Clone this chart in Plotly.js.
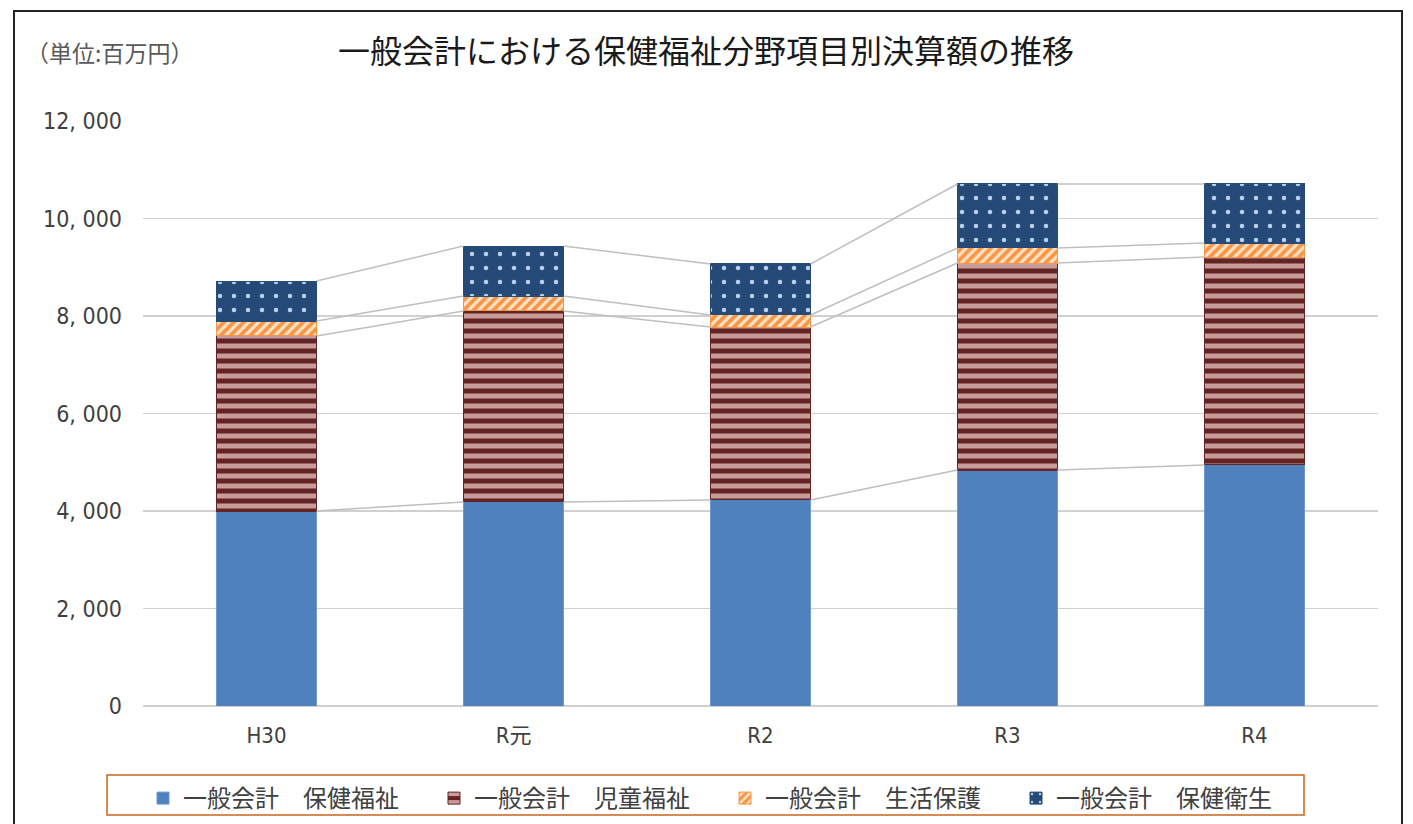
<!DOCTYPE html>
<html>
<head>
<meta charset="utf-8">
<script src="https://cdn.plot.ly/plotly-3.0.1.min.js"></script>
<style>
  html, body { margin: 0; padding: 0; background: #fff; }
  #wrap { position: relative; width: 1413px; height: 824px; overflow: hidden; }
  #chart { position: absolute; left: 0; top: 0; width: 1413px; height: 824px; }
  #frame { position: absolute; left: 13px; top: 10px; width: 1386px; height: 840px; border: 2px solid #222; pointer-events: none; }
</style>
</head>
<body>
<div id="wrap">
  <div id="chart"></div>
  <div id="frame"></div>
</div>
<script>
// ---- data (百万円) ----
const categories = ['H30', 'R元', 'R2', 'R3', 'R4'];
const seriesNames = ['一般会計　保健福祉', '一般会計　児童福祉', '一般会計　生活保護', '一般会計　保健衛生'];
const hokenFukushi = [4000, 4185, 4226, 4841, 4944];
const jidoFukushi  = [3590, 3918, 3548, 4246, 4266];
const seikatsuHogo = [307, 307, 247, 308, 287];
const hokenEisei   = [821, 1026, 1046, 1313, 1211];
const yTickValues = [0, 2000, 4000, 6000, 8000, 10000, 12000];
const yTickLabels = ['0', '2, 000', '4, 000', '6, 000', '8, 000', '10, 000', '12, 000'];

const seriesValues = [hokenFukushi, jidoFukushi, seikatsuHogo, hokenEisei];
const idx = categories.map((_, i) => i);
const barWidth = 0.405;

const styles = [
  { color: '#4f81bd', line: '#6b9ad4', pattern: { shape: '' } },
  { color: '#632423', line: '#632423', pattern: { shape: '-', fgcolor: '#c99c9c', bgcolor: '#632423', size: 10, solidity: 0.5, fillmode: 'replace' } },
  { color: '#f79646', line: '#f79646', pattern: { shape: '/', fgcolor: '#fde3c8', bgcolor: '#f79646', size: 7, solidity: 0.45, fillmode: 'replace' } },
  { color: '#254a78', line: '#254a78', pattern: { shape: '.', fgcolor: '#b9d0ec', bgcolor: '#254a78', size: 14, solidity: 0.08, fillmode: 'replace' } }
];

const traces = seriesValues.map((vals, k) => ({
  type: 'bar',
  name: seriesNames[k],
  x: idx,
  y: vals,
  width: barWidth,
  marker: {
    color: styles[k].color,
    line: { color: styles[k].line, width: 1 },
    pattern: styles[k].pattern
  },
  hoverinfo: 'name+y'
}));

// series lines connecting segment tops between adjacent bars
const cum = [];
seriesValues.forEach((vals, k) => {
  cum.push(vals.map((v, i) => v + (k > 0 ? cum[k - 1][i] : 0)));
});
const slx = [], sly = [];
cum.forEach(level => {
  for (let i = 0; i < categories.length - 1; i++) {
    slx.push(i + barWidth / 2, i + 1 - barWidth / 2, null);
    sly.push(level[i], level[i + 1], null);
  }
});
traces.push({
  type: 'scatter', mode: 'lines', x: slx, y: sly,
  line: { color: '#bfbfbf', width: 1.5 },
  showlegend: false, hoverinfo: 'skip'
});

const numFont = "'Liberation Sans Narrow', 'DejaVu Sans Condensed', 'Noto Sans CJK JP', sans-serif";
const jpFont = "'Noto Sans CJK JP', sans-serif";

// page-pixel helpers for the plot area (left 143, right 1378, top 121, bottom 706)
const px = x => (x - 143) / 1235;
const py = y => (706 - y) / 585;

const layout = {
  width: 1413, height: 824,
  margin: { l: 143, r: 35, t: 121, b: 118 },
  paper_bgcolor: '#ffffff', plot_bgcolor: '#ffffff',
  barmode: 'stack',
  title: {
    text: '一般会計における保健福祉分野項目別決算額の推移',
    font: { family: jpFont, size: 32, color: '#1a1a1a' },
    xref: 'container', x: 706 / 1413, xanchor: 'center',
    yref: 'container', y: 1 - 52 / 824, yanchor: 'middle'
  },
  annotations: [{
    text: '（単位:百万円）', showarrow: false,
    xref: 'paper', yref: 'paper', x: px(24), y: py(52),
    xanchor: 'left', yanchor: 'middle',
    font: { family: jpFont, size: 23, color: '#595959' }
  }],
  shapes: [{
    type: 'rect', xref: 'paper', yref: 'paper',
    x0: px(107), x1: px(1304), y0: py(775), y1: py(815),
    line: { color: '#c8651b', width: 1.5 }, fillcolor: 'rgba(0,0,0,0)', layer: 'below'
  }],
  xaxis: {
    range: [-0.5, 4.5], tickvals: idx, ticktext: categories,
    showgrid: false, zeroline: false, showline: false, ticks: '',
    tickfont: { family: numFont, size: 22, color: '#404040' },
    ticklabelstandoff: 14, fixedrange: true
  },
  yaxis: {
    range: [0, 12000], tickvals: yTickValues, ticktext: yTickLabels,
    showgrid: true, gridcolor: '#d0d0d0', gridwidth: 1.5,
    zeroline: true, zerolinecolor: '#d0d0d0', zerolinewidth: 1.5,
    showline: false, ticks: '',
    tickfont: { family: numFont, size: 23, color: '#404040' },
    ticklabelstandoff: 20, fixedrange: true
  },
  legend: {
    orientation: 'h', xref: 'paper', yref: 'container',
    x: 0, xanchor: 'left',
    y: 1 - 776 / 824, yanchor: 'top',
    borderwidth: 0, bgcolor: 'rgba(0,0,0,0)',
    font: { family: jpFont, size: 24, color: '#404040' },
    traceorder: 'normal', entrywidth: 246, itemwidth: 30
  },
  showlegend: true
};

Plotly.newPlot('chart', traces, layout, { displayModeBar: false, staticPlot: true });
</script>
</body>
</html>
